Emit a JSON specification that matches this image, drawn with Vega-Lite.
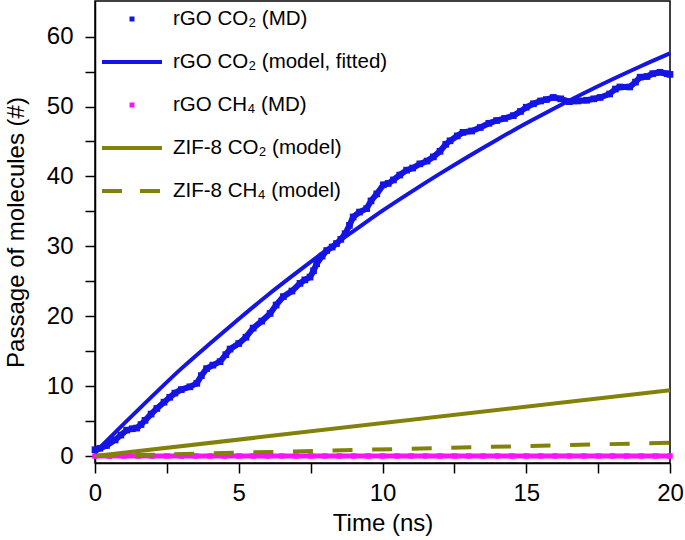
{
  "$schema": "https://vega.github.io/schema/vega-lite/v6.json",
  "width": 575,
  "height": 462,
  "autosize": "none",
  "padding": {"left": 95, "top": 1, "right": 15, "bottom": 77},
  "background": "white",
  "config": {
    "font": "Liberation Sans",
    "view": {"stroke": "black", "strokeWidth": 1.5},
    "axis": {
      "domainColor": "black", "domainWidth": 1.5, "tickColor": "black", "tickWidth": 1.5,
      "labelColor": "black", "labelFontSize": 24, "labelFont": "Liberation Sans",
      "titleColor": "black", "titleFontSize": 24, "titleFont": "Liberation Sans", "titleFontWeight": "normal",
      "grid": false, "tickSize": 10
    }
  },
  "datasets": {
    "md_co2": [
      {"series":"rGO CO₂ (MD)","t":0.0,"n":0.9},{"series":"rGO CO₂ (MD)","t":0.17,"n":1.1},{"series":"rGO CO₂ (MD)","t":0.4,"n":1.5},{"series":"rGO CO₂ (MD)","t":0.7,"n":2.3},{"series":"rGO CO₂ (MD)","t":0.9,"n":3.0},{"series":"rGO CO₂ (MD)","t":1.1,"n":3.7},{"series":"rGO CO₂ (MD)","t":1.3,"n":3.9},{"series":"rGO CO₂ (MD)","t":1.45,"n":4.0},{"series":"rGO CO₂ (MD)","t":1.6,"n":4.5},{"series":"rGO CO₂ (MD)","t":1.74,"n":5.1},{"series":"rGO CO₂ (MD)","t":1.95,"n":6.0},{"series":"rGO CO₂ (MD)","t":2.15,"n":6.8},{"series":"rGO CO₂ (MD)","t":2.4,"n":7.7},{"series":"rGO CO₂ (MD)","t":2.6,"n":8.4},{"series":"rGO CO₂ (MD)","t":2.78,"n":9.0},{"series":"rGO CO₂ (MD)","t":3.0,"n":9.5},{"series":"rGO CO₂ (MD)","t":3.3,"n":9.9},{"series":"rGO CO₂ (MD)","t":3.54,"n":10.4},{"series":"rGO CO₂ (MD)","t":3.7,"n":11.5},{"series":"rGO CO₂ (MD)","t":3.88,"n":12.5},{"series":"rGO CO₂ (MD)","t":4.1,"n":13.0},{"series":"rGO CO₂ (MD)","t":4.35,"n":13.5},{"series":"rGO CO₂ (MD)","t":4.55,"n":14.5},{"series":"rGO CO₂ (MD)","t":4.7,"n":15.3},{"series":"rGO CO₂ (MD)","t":5.0,"n":16.1},{"series":"rGO CO₂ (MD)","t":5.25,"n":17.0},{"series":"rGO CO₂ (MD)","t":5.5,"n":18.3},{"series":"rGO CO₂ (MD)","t":5.8,"n":19.3},{"series":"rGO CO₂ (MD)","t":6.09,"n":20.4},{"series":"rGO CO₂ (MD)","t":6.3,"n":21.6},{"series":"rGO CO₂ (MD)","t":6.55,"n":22.8},{"series":"rGO CO₂ (MD)","t":6.85,"n":23.6},{"series":"rGO CO₂ (MD)","t":7.13,"n":24.7},{"series":"rGO CO₂ (MD)","t":7.3,"n":25.2},{"series":"rGO CO₂ (MD)","t":7.48,"n":25.6},{"series":"rGO CO₂ (MD)","t":7.6,"n":26.5},{"series":"rGO CO₂ (MD)","t":7.71,"n":27.5},{"series":"rGO CO₂ (MD)","t":7.9,"n":28.6},{"series":"rGO CO₂ (MD)","t":8.06,"n":29.4},{"series":"rGO CO₂ (MD)","t":8.25,"n":29.9},{"series":"rGO CO₂ (MD)","t":8.4,"n":30.4},{"series":"rGO CO₂ (MD)","t":8.55,"n":31.0},{"series":"rGO CO₂ (MD)","t":8.7,"n":31.8},{"series":"rGO CO₂ (MD)","t":8.85,"n":33.0},{"series":"rGO CO₂ (MD)","t":8.98,"n":34.2},{"series":"rGO CO₂ (MD)","t":9.2,"n":34.9},{"series":"rGO CO₂ (MD)","t":9.45,"n":35.4},{"series":"rGO CO₂ (MD)","t":9.6,"n":36.5},{"series":"rGO CO₂ (MD)","t":9.8,"n":37.5},{"series":"rGO CO₂ (MD)","t":10.03,"n":38.8},{"series":"rGO CO₂ (MD)","t":10.2,"n":39.0},{"series":"rGO CO₂ (MD)","t":10.38,"n":39.5},{"series":"rGO CO₂ (MD)","t":10.6,"n":40.2},{"series":"rGO CO₂ (MD)","t":10.84,"n":40.9},{"series":"rGO CO₂ (MD)","t":11.05,"n":41.2},{"series":"rGO CO₂ (MD)","t":11.3,"n":41.8},{"series":"rGO CO₂ (MD)","t":11.55,"n":42.2},{"series":"rGO CO₂ (MD)","t":11.77,"n":42.8},{"series":"rGO CO₂ (MD)","t":12.0,"n":43.6},{"series":"rGO CO₂ (MD)","t":12.2,"n":44.6},{"series":"rGO CO₂ (MD)","t":12.35,"n":45.1},{"series":"rGO CO₂ (MD)","t":12.6,"n":45.8},{"series":"rGO CO₂ (MD)","t":12.8,"n":46.3},{"series":"rGO CO₂ (MD)","t":13.1,"n":46.5},{"series":"rGO CO₂ (MD)","t":13.4,"n":47.0},{"series":"rGO CO₂ (MD)","t":13.7,"n":47.6},{"series":"rGO CO₂ (MD)","t":13.97,"n":48.0},{"series":"rGO CO₂ (MD)","t":14.25,"n":48.3},{"series":"rGO CO₂ (MD)","t":14.55,"n":48.7},{"series":"rGO CO₂ (MD)","t":14.8,"n":49.3},{"series":"rGO CO₂ (MD)","t":15.0,"n":49.9},{"series":"rGO CO₂ (MD)","t":15.25,"n":50.4},{"series":"rGO CO₂ (MD)","t":15.5,"n":50.8},{"series":"rGO CO₂ (MD)","t":15.7,"n":51.0},{"series":"rGO CO₂ (MD)","t":15.94,"n":51.3},{"series":"rGO CO₂ (MD)","t":16.2,"n":51.1},{"series":"rGO CO₂ (MD)","t":16.5,"n":50.7},{"series":"rGO CO₂ (MD)","t":16.8,"n":50.8},{"series":"rGO CO₂ (MD)","t":17.1,"n":50.9},{"series":"rGO CO₂ (MD)","t":17.35,"n":51.1},{"series":"rGO CO₂ (MD)","t":17.57,"n":51.3},{"series":"rGO CO₂ (MD)","t":17.9,"n":51.8},{"series":"rGO CO₂ (MD)","t":18.1,"n":52.5},{"series":"rGO CO₂ (MD)","t":18.26,"n":52.8},{"series":"rGO CO₂ (MD)","t":18.6,"n":52.8},{"series":"rGO CO₂ (MD)","t":18.8,"n":53.5},{"series":"rGO CO₂ (MD)","t":18.96,"n":54.2},{"series":"rGO CO₂ (MD)","t":19.2,"n":54.3},{"series":"rGO CO₂ (MD)","t":19.4,"n":54.7},{"series":"rGO CO₂ (MD)","t":19.65,"n":54.9},{"series":"rGO CO₂ (MD)","t":19.9,"n":54.7},{"series":"rGO CO₂ (MD)","t":20.0,"n":54.6}
    ],
    "model_co2": [
      {"series":"rGO CO₂ (model, fitted)","t":0,"n":0.5},{"series":"rGO CO₂ (model, fitted)","t":1,"n":4.6},{"series":"rGO CO₂ (model, fitted)","t":2,"n":8.6},{"series":"rGO CO₂ (model, fitted)","t":3,"n":12.5},{"series":"rGO CO₂ (model, fitted)","t":4,"n":16.1},{"series":"rGO CO₂ (model, fitted)","t":5,"n":19.6},{"series":"rGO CO₂ (model, fitted)","t":6,"n":23.0},{"series":"rGO CO₂ (model, fitted)","t":7,"n":26.2},{"series":"rGO CO₂ (model, fitted)","t":8,"n":29.3},{"series":"rGO CO₂ (model, fitted)","t":9,"n":32.2},{"series":"rGO CO₂ (model, fitted)","t":10,"n":35.1},{"series":"rGO CO₂ (model, fitted)","t":11,"n":37.8},{"series":"rGO CO₂ (model, fitted)","t":12,"n":40.4},{"series":"rGO CO₂ (model, fitted)","t":13,"n":42.9},{"series":"rGO CO₂ (model, fitted)","t":14,"n":45.3},{"series":"rGO CO₂ (model, fitted)","t":15,"n":47.6},{"series":"rGO CO₂ (model, fitted)","t":16,"n":49.8},{"series":"rGO CO₂ (model, fitted)","t":17,"n":51.9},{"series":"rGO CO₂ (model, fitted)","t":18,"n":53.9},{"series":"rGO CO₂ (model, fitted)","t":19,"n":55.8},{"series":"rGO CO₂ (model, fitted)","t":20,"n":57.6}
    ],
    "md_ch4": [
      {"series":"rGO CH₄ (MD)","t":0,"n":0},{"series":"rGO CH₄ (MD)","t":0.5,"n":0},{"series":"rGO CH₄ (MD)","t":1,"n":0},{"series":"rGO CH₄ (MD)","t":1.5,"n":0},{"series":"rGO CH₄ (MD)","t":2,"n":0},{"series":"rGO CH₄ (MD)","t":2.5,"n":0},{"series":"rGO CH₄ (MD)","t":3,"n":0},{"series":"rGO CH₄ (MD)","t":3.5,"n":0},{"series":"rGO CH₄ (MD)","t":4,"n":0},{"series":"rGO CH₄ (MD)","t":4.5,"n":0},{"series":"rGO CH₄ (MD)","t":5,"n":0},{"series":"rGO CH₄ (MD)","t":5.5,"n":0},{"series":"rGO CH₄ (MD)","t":6,"n":0},{"series":"rGO CH₄ (MD)","t":6.5,"n":0},{"series":"rGO CH₄ (MD)","t":7,"n":0},{"series":"rGO CH₄ (MD)","t":7.5,"n":0},{"series":"rGO CH₄ (MD)","t":8,"n":0},{"series":"rGO CH₄ (MD)","t":8.5,"n":0},{"series":"rGO CH₄ (MD)","t":9,"n":0},{"series":"rGO CH₄ (MD)","t":9.5,"n":0},{"series":"rGO CH₄ (MD)","t":10,"n":0},{"series":"rGO CH₄ (MD)","t":10.5,"n":0},{"series":"rGO CH₄ (MD)","t":11,"n":0},{"series":"rGO CH₄ (MD)","t":11.5,"n":0},{"series":"rGO CH₄ (MD)","t":12,"n":0},{"series":"rGO CH₄ (MD)","t":12.5,"n":0},{"series":"rGO CH₄ (MD)","t":13,"n":0},{"series":"rGO CH₄ (MD)","t":13.5,"n":0},{"series":"rGO CH₄ (MD)","t":14,"n":0},{"series":"rGO CH₄ (MD)","t":14.5,"n":0},{"series":"rGO CH₄ (MD)","t":15,"n":0},{"series":"rGO CH₄ (MD)","t":15.5,"n":0},{"series":"rGO CH₄ (MD)","t":16,"n":0},{"series":"rGO CH₄ (MD)","t":16.5,"n":0},{"series":"rGO CH₄ (MD)","t":17,"n":0},{"series":"rGO CH₄ (MD)","t":17.5,"n":0},{"series":"rGO CH₄ (MD)","t":18,"n":0},{"series":"rGO CH₄ (MD)","t":18.5,"n":0},{"series":"rGO CH₄ (MD)","t":19,"n":0},{"series":"rGO CH₄ (MD)","t":19.5,"n":0},{"series":"rGO CH₄ (MD)","t":20,"n":0}
    ],
    "zif_co2": [
      {"series":"ZIF-8 CO₂ (model)","t":0,"n":0},{"series":"ZIF-8 CO₂ (model)","t":20,"n":9.4}
    ],
    "zif_ch4": [
      {"series":"ZIF-8 CH₄ (model)","t":0,"n":0},{"series":"ZIF-8 CH₄ (model)","t":20,"n":1.9}
    ]
  },
  "encoding": {
    "x": {
      "field": "t", "type": "quantitative",
      "scale": {"domain": [0, 20], "nice": false, "zero": false},
      "axis": {
        "title": "Time (ns)",
        "values": [0, 2.5, 5, 7.5, 10, 12.5, 15, 17.5, 20],
        "labelExpr": "datum.value % 5 === 0 ? datum.label : ''",
        "labelPadding": 8,
        "titlePadding": 6,
        "labelFlush": false,
        "encode": {"ticks": {"update": {"y2": {"signal": "datum.value % 5 === 0 ? 10 : 5"}}}}
      }
    },
    "y": {
      "field": "n", "type": "quantitative",
      "scale": {"domain": [-1, 65.1], "nice": false, "zero": false},
      "axis": {
        "title": "Passage of molecules (#)",
        "values": [0, 5, 10, 15, 20, 25, 30, 35, 40, 45, 50, 55, 60],
        "labelExpr": "datum.value % 10 === 0 ? datum.label : ''",
        "labelPadding": 12,
        "titlePadding": 18,
        "labelFlush": false,
        "encode": {"ticks": {"update": {"x2": {"signal": "datum.value % 10 === 0 ? -10 : -5"}}}}
      }
    },
    "color": {
      "field": "series", "type": "nominal",
      "scale": {
        "domain": ["rGO CO₂ (MD)", "rGO CO₂ (model, fitted)", "rGO CH₄ (MD)", "ZIF-8 CO₂ (model)", "ZIF-8 CH₄ (model)"],
        "range": ["#1414e6", "#1414e6", "#ff10ff", "#82820a", "#82820a"]
      },
      "legend": {
        "orient": "none", "legendX": 5, "legendY": -14, "title": null, "padding": 0,
        "symbolType": "stroke", "symbolSize": 3600, "symbolStrokeWidth": 4,
        "labelFontSize": 20.5, "labelFont": "Liberation Sans", "labelColor": "black", "labelOffset": 9,
        "rowPadding": 0, "labelLimit": 400,
        "encode": {
          "symbols": {
            "update": {
              "shape": {"signal": "(datum.value == 'rGO CO₂ (MD)' || datum.value == 'rGO CH₄ (MD)') ? 'square' : 'stroke'"},
              "size": {"signal": "(datum.value == 'rGO CO₂ (MD)' || datum.value == 'rGO CH₄ (MD)') ? 1 : 3600"},
              "strokeDash": {"signal": "datum.value == 'ZIF-8 CH₄ (model)' ? '20,18' : 'none'"}
            }
          }
        }
      }
    }
  },
  "layer": [
    {"data": {"name": "md_ch4"}, "mark": {"type": "line", "strokeWidth": 5}},
    {"data": {"name": "md_ch4"}, "mark": {"type": "point", "shape": "square", "filled": true, "opacity": 1, "size": 30}},
    {"data": {"name": "md_co2"}, "mark": {"type": "line", "strokeWidth": 6}},
    {"data": {"name": "md_co2"}, "mark": {"type": "point", "shape": "square", "filled": true, "opacity": 1, "size": 45}},
    {"data": {"name": "model_co2"}, "mark": {"type": "line", "strokeWidth": 4, "interpolate": "monotone"}},
    {"data": {"name": "zif_co2"}, "mark": {"type": "line", "strokeWidth": 4}},
    {"data": {"name": "zif_ch4"}, "mark": {"type": "line", "strokeWidth": 4, "strokeDash": [20, 19.6]}}
  ]
}
